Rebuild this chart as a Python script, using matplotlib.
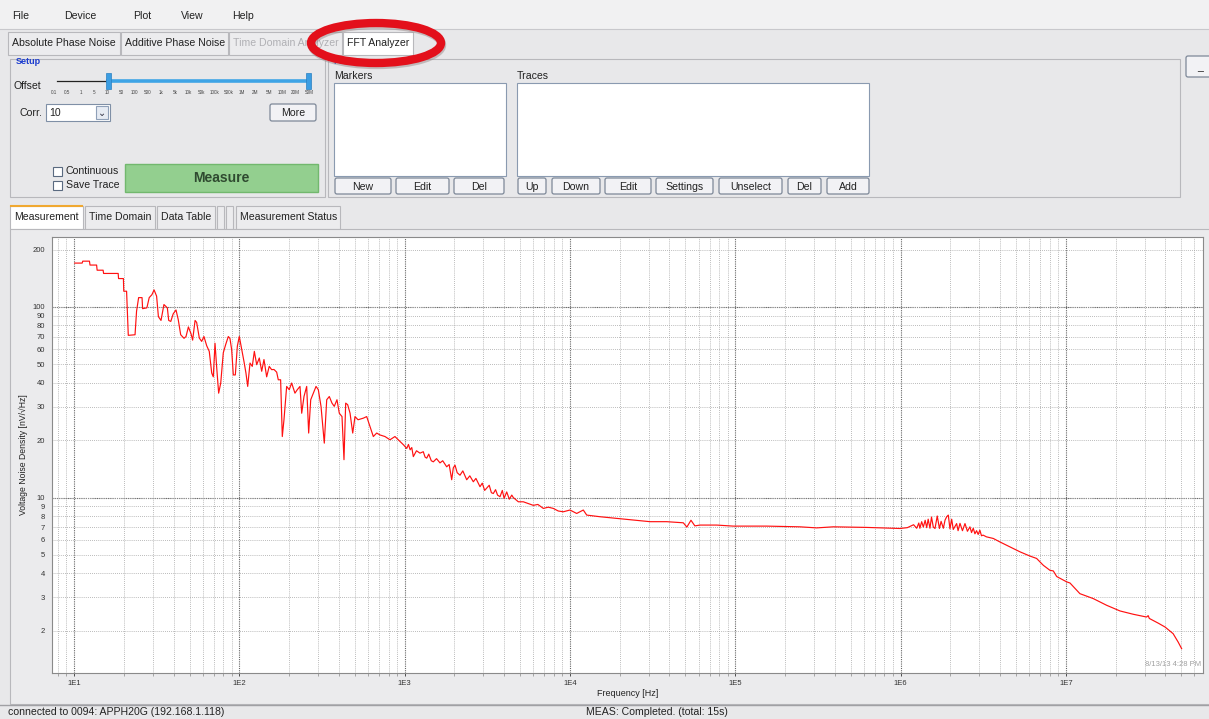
import matplotlib
matplotlib.use('Agg')
import matplotlib.pyplot as plt
from matplotlib.patches import Rectangle, Ellipse, FancyBboxPatch
from matplotlib.ticker import FixedLocator, NullLocator

plt.rcParams['font.family'] = ['Liberation Sans', 'DejaVu Sans']

# noise trace (Hz, nV/sqrt(Hz))
freq_hz = [10.1, 11.2, 11.3, 12.4, 12.5, 13.7, 13.8, 15.0, 15.1, 18.5, 18.6, 19.9, 20.0, 20.8,
           21.3, 23.4, 23.9, 24.6, 25.8, 26.0, 27.6, 28.5, 29.6, 30.5, 31.6, 32.4, 33.6, 35.0,
           36.7, 37.4, 38.5, 39.8, 41.4, 42.7, 44.2, 46.3, 47.6, 49.2, 51.0, 52.2, 54.0, 55.2,
           57.3, 59.2, 61.1, 63.5, 65.8, 68.1, 69.6, 71.3, 72.9, 75.0, 77.2, 80.0, 82.7, 85.8,
           87.8, 89.9, 92.0, 94.6, 97.3, 100, 103.4, 106.7, 109.7, 112.4, 116.1, 119.8, 123.3,
           127.4, 132.1, 136.6, 141.0, 146.4, 151.7, 156.9, 162.1, 168.3, 172.1, 177.8, 182.0,
           186.3, 193.4, 200.5, 207.3, 217.1, 224.2, 232.9, 238.5, 246.2, 255.6, 262.8, 270.4,
           280.5, 291.2, 300.6, 312.1, 326.7, 337.9, 350.3, 363.6, 375.4, 389.8, 402.6, 418.1,
           429.8, 440.1, 452.5, 467.7, 485.4, 501, 522.6, 562.7, 589.7, 617.5, 646.8, 677.8,
           710, 760.9, 815.6, 874, 937, 985, 1030, 1055, 1080, 1105, 1129, 1180, 1239, 1297,
           1330, 1361, 1400, 1450, 1492, 1560, 1637, 1700, 1797, 1860, 1927, 1970, 2018, 2080,
           2163, 2250, 2375, 2480, 2604, 2700, 2858, 2950, 3050, 3138, 3250, 3350, 3441, 3550,
           3650, 3777, 3900, 4000, 4146, 4300, 4450, 4546, 4875, 5225, 5600, 6005, 6400, 6904,
           7400, 7936, 8500, 9121, 10010, 10990, 12050, 12640, 15210, 19190, 24190, 30520,
           38510, 48530, 51000, 54000, 57000, 61240, 77270, 97390, 155000, 246600, 311100,
           391700, 623700,
           993000, 1.1e6, 1.2e6, 1.253e6, 1.29e6, 1.31e6, 1.343e6, 1.374e6, 1.41e6, 1.44e6,
           1.47e6, 1.507e6, 1.54e6, 1.579e6, 1.617e6, 1.668e6, 1.72e6, 1.76e6, 1.817e6, 1.86e6,
           1.903e6, 1.946e6, 1.991e6, 2.04e6, 2.085e6, 2.185e6, 2.23e6, 2.29e6, 2.37e6, 2.455e6,
           2.54e6, 2.63e6, 2.69e6, 2.755e6, 2.82e6, 2.885e6, 2.95e6, 3.02e6, 3.09e6, 3.16e6,
           3.31e6, 3.64e6, 3.99e6,
           4.38e6, 4.81e6, 5.28e6, 6.07e6, 6.66e6, 7.31e6, 8.02e6, 8.4e6, 8.81e6, 1.012e7,
           1.06e7, 1.217e7, 1.465e7, 1.766e7, 2.127e7, 2.56e7, 3.08e7, 3.15e7, 3.2e7, 3.63e7,
           3.99e7, 4.46e7, 4.79e7, 5.02e7]
noise_nv = [170, 170, 174, 174, 166, 166, 156, 156, 150, 150, 141, 141, 121, 121,
            71, 71.5, 95, 112, 112, 98, 99, 112, 116, 123, 114, 89, 85, 103,
            99, 85, 84, 92, 96.5, 86, 71.5, 68.5, 70, 78.6, 72.5, 67, 85, 83,
            68.7, 66, 70, 62.6, 58.5, 45, 43, 64.5, 48.8, 35.3, 39.9, 57.5, 63.5, 70,
            68.4, 59.7, 44, 44, 62.3, 70, 60, 51.8, 45, 38.3, 50.8, 48.8, 58.5,
            49.8, 54, 46, 53, 43, 48.8, 46.9, 47, 45.5, 41.5, 41.5, 20.9,
            25.6, 38.3, 36.8, 39.9, 35.3, 36.8, 38.3, 27.7, 33.9, 38.3, 21.8, 32.6,
            35.3, 38.3, 36.8, 30.1, 19.3, 32.6, 33.9, 31.3, 30.1, 32.6, 27.7, 26.6,
            15.8, 31.3, 30.7, 27.7, 21.8, 26.6, 25.6, 26.1, 26.6, 23.6, 20.9, 21.8,
            21.3, 20.9, 20.1, 20.9, 19.7, 18.9, 18.1, 19.0, 17.8, 18.3, 16.4, 17.6, 17.1, 17.4,
            16.3, 16.1, 16.9, 15.6, 15.4, 16.0, 15.2, 15.6, 14.5, 14.9, 12.4, 14.3, 14.8, 13.5,
            13.1, 13.8, 12.4, 13.0, 12.1, 12.6, 11.4, 11.9, 10.9, 11.2, 11.6, 10.6, 10.5, 11.0,
            10.3, 10.1, 10.9, 9.9, 10.7, 9.8, 10.3, 10.0, 9.5, 9.5, 9.3, 9.1, 9.2, 8.77,
            8.9, 8.77, 8.5, 8.42, 8.6, 8.25, 8.6, 8.09, 7.93, 7.77, 7.62, 7.47,
            7.47, 7.37, 7.0, 7.6, 7.1, 7.17, 7.17, 7.08, 7.08, 7.02, 6.93,
            7.02, 6.97,
            6.88, 6.95, 7.2, 6.9, 7.35, 6.9, 7.47, 7.0, 7.6, 6.95,
            7.7, 6.9, 7.9, 7.0, 6.88, 8.0, 6.88, 7.5, 6.9, 7.62,
            7.93, 8.09, 6.85, 7.7, 6.8, 7.3, 6.7, 7.32, 6.7, 7.3,
            6.65, 7.02, 6.55, 6.9, 6.45, 6.7, 6.4, 6.74, 6.3, 6.35,
            6.22, 6.1, 5.85,
            5.62, 5.4, 5.19, 4.93, 4.79, 4.41, 4.15, 4.12, 3.85, 3.61,
            3.56, 3.13, 2.95, 2.72, 2.54, 2.44, 2.36, 2.40, 2.32, 2.19,
            2.09, 1.93, 1.74, 1.61]

x_ticks = [1e1, 1e2, 1e3, 1e4, 1e5, 1e6, 1e7]
x_tick_labels = ['1E1', '1E2', '1E3', '1E4', '1E5', '1E6', '1E7']
y_ticks = [2, 3, 4, 5, 6, 7, 8, 9, 10, 20, 30, 40, 50, 60, 70, 80, 90, 100, 200]

menu_items = ['File', 'Device', 'Plot', 'View', 'Help']
top_tabs = ['Absolute Phase Noise', 'Additive Phase Noise', 'Time Domain Analyzer', 'FFT Analyzer']
offset_labels = ['0.1', '0.5', '1', '5', '10', '50', '100', '500', '1k', '5k', '10k', '50k',
                 '100k', '500k', '1M', '2M', '5M', '10M', '20M', '50M']
marker_buttons = ['New', 'Edit', 'Del']
trace_buttons = ['Up', 'Down', 'Edit', 'Settings', 'Unselect', 'Del', 'Add']
bottom_tabs = ['Measurement', 'Time Domain', 'Data Table', '', '', 'Measurement Status']

W, H = 1209, 719
fig = plt.figure(figsize=(W / 100, H / 100), dpi=100)
fig.patch.set_facecolor('#e8e8ea')

# window chrome drawn in pixel coordinates
ui = fig.add_axes([0, 0, 1, 1])
ui.set_xlim(0, W)
ui.set_ylim(H, 0)
ui.axis('off')


def box(x0, y0, x1, y1, fc='none', ec='#b4b4b8', lw=0.8, z=1):
    ui.add_patch(Rectangle((x0, y0), x1 - x0, y1 - y0, facecolor=fc, edgecolor=ec, lw=lw, zorder=z))


def label(x, y, s, size=7.6, color='#222222', **kw):
    ui.text(x, y, s, fontsize=size, color=color, va='center', zorder=5, **kw)


def button(x0, y0, x1, y1, s):
    ui.add_patch(FancyBboxPatch((x0, y0), x1 - x0, y1 - y0,
                                boxstyle='round,pad=0,rounding_size=2',
                                fc='#f2f2f5', ec='#7d8898', lw=0.9, zorder=3))
    label((x0 + x1) / 2, (y0 + y1) / 2 + 0.5, s, ha='center')


# menu bar
box(0, 0, W, 29, fc='#f1f1f2', ec='none')
ui.plot([0, W], [29, 29], color='#c8c8cc', lw=0.8)
for s, x in zip(menu_items, [12, 64, 133, 181, 232]):
    label(x, 16, s)

# top tabs
tab_x = [8, 121, 229, 343, 414]
for i, s in enumerate(top_tabs):
    fc = 'white' if i == 3 else '#ececee'
    box(tab_x[i], 32, tab_x[i + 1] - 1, 55, fc=fc, ec='#b8b8bc')
    label(tab_x[i] + 4, 43.5, s, color='#b0b0b4' if i == 2 else '#222222')

# setup panel
box(10, 59, 325, 197, ec='#b8b8bc')
label(16, 62, 'Setup', size=6.5, color='#1b3ccf', fontweight='bold')
label(14, 86, 'Offset')
ui.plot([57, 108], [81, 81], color='#222222', lw=0.9, zorder=3)
ui.plot([108, 308], [81, 81], color='#3ea4e6', lw=2.6, zorder=3)
for hx in [108, 308]:
    ui.add_patch(Rectangle((hx - 2.5, 73), 5, 16, fc='#3b9de2', ec='#2a7fc0', lw=0.5, zorder=4))
for i, s in enumerate(offset_labels):
    lx = 54 + i * (309 - 54) / (len(offset_labels) - 1)
    label(lx, 92.5, s, size=3.3, ha='center', color='#444444')
label(19, 113, 'Corr.')
box(46, 104, 110, 121, fc='white', ec='#7f8fa6')
label(49, 113, '10')
box(96, 106, 108, 119, fc='#e6ebf3', ec='#8fa0b8')
label(102, 112.5, '\u2304', size=7, ha='center', color='#334')
button(270, 104, 316, 121, 'More')
for y, s in [(171, 'Continuous'), (185, 'Save Trace')]:
    box(53, y - 4.5, 62, y + 4.5, fc='white', ec='#5a6a80')
    label(66, y, s)
ui.add_patch(Rectangle((125, 164), 193, 28, fc='#93cf8f', ec='#72b86e', lw=1, zorder=3))
label(221.5, 178, 'Measure', size=10, ha='center', color='#2f4a30', fontweight='bold')

# plot panel (markers / traces)
box(328, 59, 1180, 197, ec='#b8b8bc')
label(333, 61, 'Plot', size=6.5, color='#1b3ccf', fontweight='bold')
label(334, 76, 'Markers')
label(517, 76, 'Traces')
box(334, 83, 506, 176, fc='white', ec='#8a9ab0')
box(517, 83, 869, 176, fc='white', ec='#8a9ab0')
for s, (a, b) in zip(marker_buttons, [(335, 391), (396, 449), (454, 504)]):
    button(a, 178, b, 194, s)
for s, (a, b) in zip(trace_buttons, [(518, 546), (552, 600), (605, 651), (656, 713),
                                      (719, 782), (788, 821), (827, 869)]):
    button(a, 178, b, 194, s)
button(1186, 56, 1215, 77, '_')

# red highlight ring
ui.add_patch(Ellipse((377, 45), 130, 40, fill=False, ec='#9a8c8c', lw=6, alpha=0.5, zorder=6))
ui.add_patch(Ellipse((376, 43), 130, 40, fill=False, ec='#e3101b', lw=6, zorder=7))

# bottom tabs
btab = [(10, 83), (85, 155), (157, 215), (217, 224), (226, 233), (236, 340)]
for s, (a, b) in zip(bottom_tabs, btab):
    box(a, 206, b, 229, fc='white' if s == 'Measurement' else '#ececee', ec='#b8b8bc')
    if s:
        label(a + 4, 217.5, s)
ui.plot([11, 82], [206, 206], color='#f0a830', lw=1.5, zorder=4)

# chart panel and status bar
box(10, 229, W + 2, 704, fc='#ebebed', ec='#b8b8bc')
ui.plot([0, W], [705, 705], color='#a0a0a4', lw=1)
label(8, 712, 'connected to 0094: APPH20G (192.168.1.118)')
label(586, 712, 'MEAS: Completed. (total: 15s)')
label(628, 693, 'Frequency [Hz]', size=6.5, ha='center')
ui.text(23, 455, 'Voltage Noise Density [nV/\u221aHz]', fontsize=6.2, rotation=90,
        ha='center', va='center', color='#222222')

# the measurement chart
ax = fig.add_axes([52 / W, 1 - 673 / H, (1203 - 52) / W, (673 - 237) / H])
ax.set_facecolor('white')
ax.set_xscale('log')
ax.set_yscale('log')
ax.set_xlim(7.36, 6.76e7)
ax.set_ylim(1.2, 233)
ax.plot(freq_hz, noise_nv, color='#ff1010', lw=0.85)

ax.xaxis.set_major_locator(FixedLocator(x_ticks))
ax.set_xticklabels(x_tick_labels)
ax.yaxis.set_major_locator(FixedLocator(y_ticks))
ax.set_yticklabels([str(v) for v in y_ticks])
ax.yaxis.set_minor_locator(NullLocator())
ax.tick_params(axis='both', labelsize=5.5, colors='#333333', length=2, width=0.6)
ax.tick_params(axis='x', which='minor', length=2, width=0.5, color='#888888')
ax.tick_params(axis='y', length=0, pad=5)
ax.tick_params(axis='x', pad=3)

ax.grid(True, which='minor', axis='x', linestyle=(0, (1, 1.5)), color='#a4a4a4', lw=0.6)
ax.grid(True, which='major', axis='x', linestyle=(0, (1, 1)), color='#666666', lw=0.8)
ax.grid(True, which='major', axis='y', linestyle=(0, (1, 1.5)), color='#a4a4a4', lw=0.6)
for v in [10, 100]:
    ax.axhline(v, linestyle=(0, (1, 1)), color='#666666', lw=0.8, zorder=1)
for sp in ax.spines.values():
    sp.set_color('#8a8a8a')
    sp.set_linewidth(0.8)
ax.text(0.998, 0.012, '8/13/13 4:28 PM', transform=ax.transAxes, ha='right', va='bottom',
        fontsize=5.5, color='#a0a0a0')

fig.savefig('out.png', dpi=100, facecolor=fig.get_facecolor())
